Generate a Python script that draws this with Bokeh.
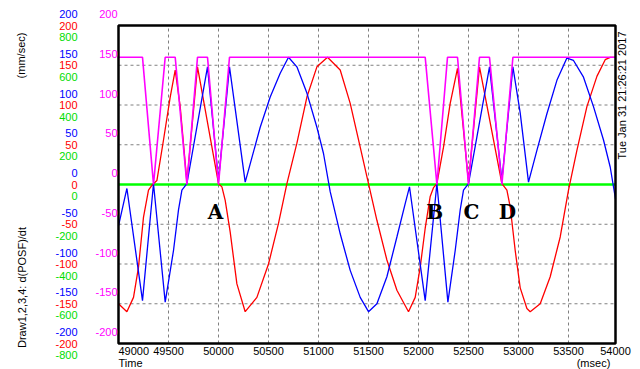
import math
from bokeh.plotting import figure
from bokeh.models import Label, Range1d, BoxAnnotation
from bokeh.embed import file_html
from bokeh.resources import INLINE

# ---------------- data ----------------
x_ticks = [49000, 49500, 50000, 50500, 51000, 51500, 52000, 52500, 53000, 53500, 54000]
x_tick_labels = ["49000", "49500", "50000", "50500", "51000", "51500",
                 "52000", "52500", "53000", "53500", "54000"]
y_ticks = [200, 150, 100, 50, 0, -50, -100, -150, -200]
blue_tick_labels = ["200", "150", "100", "50", "0", "-50", "-100", "-150", "-200"]
red_tick_labels = ["200", "150", "100", "50", "0", "-50", "-100", "-150", "-200"]
green_tick_labels = ["800", "600", "400", "200", "0", "-200", "-400", "-600", "-800"]
magenta_tick_labels = ["200", "150", "100", "50", "0", "-50", "-100", "-150", "-200"]
grid_x = [49500, 50000, 50500, 51000, 51500, 52000, 52500, 53000, 53500]
grid_y = [-150, -100, -50, 0, 50, 100, 150]

magenta_t = [49000, 49240, 49350, 49467, 49567, 49684, 49790, 49890, 50000, 50110,
             52067, 52184, 52290, 52390, 52500, 52610, 52710, 52834, 52944, 53970]
magenta_v = [160, 160, 0, 160, 160, 0, 160, 160, 0, 160,
             160, 0, 160, 160, 0, 160, 160, 0, 160, 160]

blue_t = [49000, 49084, 49240, 49350, 49467, 49550, 49600, 49634, 49684, 49890,
          50000, 50110, 50267, 50317, 50417, 50517, 50617, 50700, 50784, 50884,
          50984, 51050, 51117, 51217, 51317, 51417, 51500, 51584, 51684, 51784,
          51867, 51910, 52067, 52184, 52294, 52367, 52417, 52450, 52500, 52710,
          52834, 52944, 53017, 53100, 53184, 53284, 53384, 53484, 53550, 53650,
          53750, 53850, 53917, 53970]
blue_v = [-52, -5, -146, 1, -148, -83, -32, -7, 1, 148,
          5, 148, 3, 26, 72, 110, 140, 160, 148, 115,
          72, 39, -9, -62, -108, -142, -160, -150, -116, -66,
          -24, -3, -146, 1, -148, -83, -32, -7, 1, 148,
          5, 148, 90, 3, 43, 89, 131, 159, 156, 135,
          98, 56, 22, -18]

red_t = [49000, 49084, 49150, 49200, 49250, 49300, 49334, 49384, 49450, 49517,
         49567, 49617, 49684, 49790, 50000, 50034, 50067, 50117, 50184, 50267,
         50384, 50500, 50600, 50684, 50784, 50884, 50984, 51090, 51217, 51317,
         51417, 51500, 51584, 51684, 51784, 51900, 51967, 52017, 52067, 52117,
         52150, 52184, 52250, 52317, 52390, 52500, 52610, 52834, 52884, 52917,
         52967, 53017, 53084, 53117, 53217, 53317, 53417, 53500, 53584, 53684,
         53784, 53867, 53917, 53970]
red_v = [-150, -160, -142, -104, -41, -7, -1, 5, 56, 110,
         144, 98, 3, 148, 1, -3, -20, -60, -125, -160,
         -142, -100, -49, 1, 52, 110, 148, 160, 144, 102,
         47, 1, -45, -95, -133, -160, -142, -104, -55, -15,
         -4, 1, 47, 102, 146, 3, 148, 1, -7, -28,
         -83, -130, -156, -160, -150, -116, -66, -7, 43, 98,
         136, 157, 160, 160]

green_t = [49000, 53970]
green_v = [0, 0]

marks_text = ["A", "B", "C", "D"]
marks_t = [49970, 52162, 52530, 52889]
marks_v = [-35, -34, -34, -34]

date_text = "Tue Jan 31 21:26:21 2017"

# ---------------- layout ----------------
W, H = 640, 369
L, R, T, B = 118, 615, 25, 343          # pixel box of the plotting area
X0, X1 = 49000, 53970
Y0, Y1 = -200, 200

def px2x(px):
    return X0 + (px - L) * (X1 - X0) / (R - L)

def py2y(py):
    return Y1 - (py - T) * (Y1 - Y0) / (B - T)

def y2py(v):
    return T + (Y1 - v) * (B - T) / (Y1 - Y0)

p = figure(width=W, height=H, output_backend="svg", toolbar_location=None,
           x_range=Range1d(px2x(0), px2x(W)), y_range=Range1d(py2y(H), py2y(0)),
           x_axis_location=None, y_axis_location=None,
           min_border=0)
p.background_fill_color = "white"
p.border_fill_color = "white"
p.outline_line_color = None
p.xgrid.visible = False
p.ygrid.visible = False

# dashed grid, limited to the plotting box
p.segment(x0=grid_x, y0=[Y0] * len(grid_x), x1=grid_x, y1=[Y1] * len(grid_x),
          line_color="#808080", line_dash="3 3", line_width=1)
p.segment(x0=[X0] * len(grid_y), y0=grid_y, x1=[X1] * len(grid_y), y1=grid_y,
          line_color="#808080", line_dash="3 3", line_width=1)

p.line(green_t, green_v, line_color="#00ff00", line_width=2.5)
p.line(red_t, red_v, line_color="#ff0000", line_width=1.3)
p.line(blue_t, blue_v, line_color="#0000ff", line_width=1.3)
p.line(magenta_t, magenta_v, line_color="#ff00ff", line_width=1.6)

p.add_layout(BoxAnnotation(left=X0, right=X1, bottom=Y0, top=Y1,
                           fill_alpha=0, line_color="black", line_width=2.5,
                           line_alpha=1))

FONT = "Liberation Sans"
FS = "11px"

def add_label(x, y, text, color="black", align="center", baseline="middle",
              angle=0.0, font=FONT, size=FS, style="normal"):
    p.add_layout(Label(x=x, y=y, x_units="data", y_units="data", text=text,
                       text_color=color, text_align=align, text_baseline=baseline,
                       angle=angle, text_font=font, text_font_size=size,
                       text_font_style=style))

# left tick label columns
for v, tb, tr, tg, tm in zip(y_ticks, blue_tick_labels, red_tick_labels,
                             green_tick_labels, magenta_tick_labels):
    py = y2py(v)
    add_label(px2x(77), py2y(py - 11.5), tb, color="#0000ff", align="right")
    add_label(px2x(77), py2y(py), tr, color="#ff0000", align="right")
    add_label(px2x(77), py2y(py + 11.5), tg, color="#00dd00", align="right")
    add_label(px2x(117), py2y(py - 11.5), tm, color="#ff00ff", align="right")

# bottom tick labels
for i, (t, s) in enumerate(zip(x_ticks, x_tick_labels)):
    if i == 0:
        add_label(X0, py2y(350), s, align="left")
    else:
        add_label(min(t, X1), py2y(350), s, align="center")
add_label(X0, py2y(362), "Time", align="left")
add_label(px2x(593), py2y(362), "(msec)", align="center")

# rotated titles
add_label(px2x(20), py2y(55), "(mm/sec)", angle=math.pi / 2)
add_label(px2x(21), py2y(287), "Draw1,2,3,4: d(POSF)/dt", angle=math.pi / 2)
add_label(px2x(621), py2y(95), date_text, angle=math.pi / 2)

# event marks
for s, t, v in zip(marks_text, marks_t, marks_v):
    add_label(t, v, s, font="DejaVu Serif", size="20px", style="bold")

open("out.html", "w").write(file_html(p, INLINE))
